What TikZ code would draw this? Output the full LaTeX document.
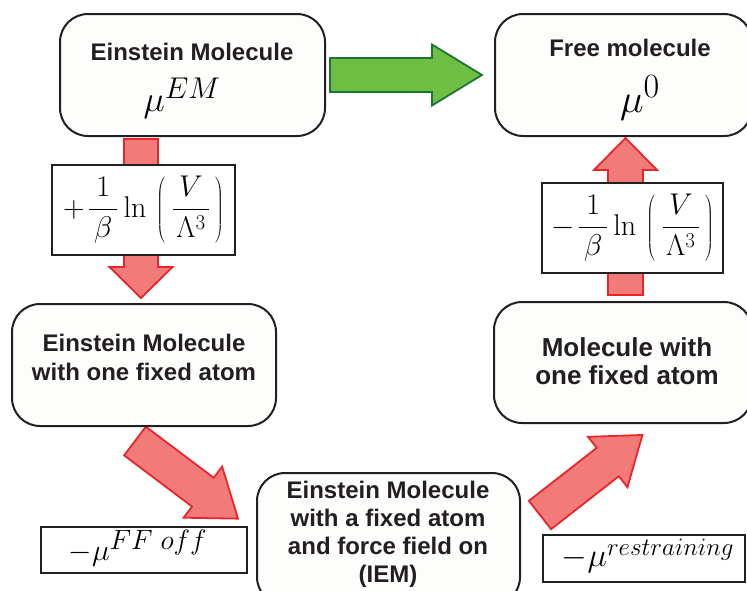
\RequirePackage{fix-cm}
\documentclass[tikz,border=0pt]{standalone}
\usepackage[no-math]{fontspec}
\setmainfont{Liberation Sans}
\definecolor{redfill}{HTML}{F27B79}
\definecolor{redline}{HTML}{E8262A}
\definecolor{greenfill}{HTML}{6FBE44}
\definecolor{greenline}{HTML}{1C7536}
\definecolor{boxfill}{HTML}{FDFDFB}
\definecolor{boxline}{HTML}{231F20}
\newcommand{\sz}[2]{\fontsize{#1}{#2}\selectfont}
\newcommand{\supsz}[2]{\mbox{\fontsize{#1}{#1}\selectfont$#2$}}
\newcommand{\lnterm}[1]{\sz{30}{36}$\displaystyle #1\mkern2mu\frac{\,1\,}{\,\beta\,}\ln\mkern3mu\left(\mkern4mu\frac{\mkern2mu V\mkern2mu}{\mkern2mu\Lambda^3\mkern2mu}\mkern3mu\right)$}
\tikzset{
  statebox/.style={draw=boxline, line width=2pt, fill=boxfill, rounded corners=28pt},
  termbox/.style={draw=boxline, line width=2.5pt, fill=white},
  redarrow/.style={draw=redline, fill=redfill, line width=1.8pt, line join=miter},
  greenarrow/.style={draw=greenline, fill=greenfill, line width=1.8pt, line join=miter},
  lbl/.style={font=\sz{24}{29}\bfseries, align=center, text=boxline, inner sep=0pt},
  mathlbl/.style={text=black, inner sep=0pt},
  pics/fatarrow/.style args={#1/#2/#3/#4}{code={
    \path[pic actions] (0,-#2) -- (#1-#4,-#2) -- (#1-#4,-#3) -- (#1,0)
      -- (#1-#4,#3) -- (#1-#4,#2) -- (0,#2) -- cycle;
  }},
}
\begin{document}
\begin{tikzpicture}[x=1pt,y=-1pt]
\useasboundingbox[fill=white] (0,0) rectangle (747,590);
% fat arrows
\pic[greenarrow] at (330,75) {fatarrow={152/17/30.5/50}};
\pic[redarrow, rotate=-90] at (141,139) {fatarrow={159/17/31.5/31}};
\pic[redarrow, rotate=90] at (625.5,295) {fatarrow={157/17.5/31.5/32}};
\pic[redarrow, rotate=-37] at (135,441) {fatarrow={129/18/32/44}};
\pic[redarrow, rotate=38] at (540,515) {fatarrow={130/18/32/44}};
% state boxes
\node[statebox, minimum width=265pt, minimum height=122pt] (em) at (192.5,75) {};
\node[statebox, minimum width=257pt, minimum height=122pt] (free) at (623.5,75) {};
\node[statebox, minimum width=264pt, minimum height=122pt] (emfix) at (144,365) {};
\node[statebox, minimum width=258pt, minimum height=121pt] (molfix) at (623,362.5) {};
\node[statebox, minimum width=263pt, minimum height=132pt] (iem) at (388.5,539) {};
% term boxes
\node[termbox, minimum width=183pt, minimum height=90pt] (t1) at (143.5,210) {};
\node[termbox, minimum width=181pt, minimum height=90pt] (t2) at (632.5,228) {};
\node[termbox, minimum width=206pt, minimum height=46pt] (t3) at (144,550) {};
\node[termbox, minimum width=202pt, minimum height=47pt] (t4) at (644,558.5) {};
% texts
\node[lbl] (emA) at (192,52) {Einstein Molecule};
\node[mathlbl] (emB) at (182,98) {\sz{36}{40}$\mu^{\supsz{30}{EM}}$};
\node[lbl] (freeA) at (630,48) {Free molecule};
\node[mathlbl] (freeB) at (640,98) {\sz{40}{44}$\mu^{\supsz{34}{0}}$};
\node[lbl] (emfixT) at (144,357.5) {Einstein Molecule\\with one fixed atom};
\node[lbl, font=\sz{26}{28}\bfseries] (molfixT) at (627,361) {Molecule with\\one fixed atom};
\node[lbl, font=\sz{24}{28}\bfseries] (iemT) at (388,534) {Einstein Molecule\\with a fixed atom\\and force field on\\(IEM)};
\node[mathlbl] (t1T) at (t1) {\lnterm{+}};
\node[mathlbl] (t2T) at (t2) {\lnterm{-}};
\node[mathlbl] (t3T) at (138,548) {\sz{30}{36}$-\mu^{\supsz{28}{FF\;off}}$};
\node[mathlbl] (t4T) at (648,556) {\sz{33}{36}$-\mu^{\supsz{25}{restraining}}$};
\end{tikzpicture}
\end{document}
